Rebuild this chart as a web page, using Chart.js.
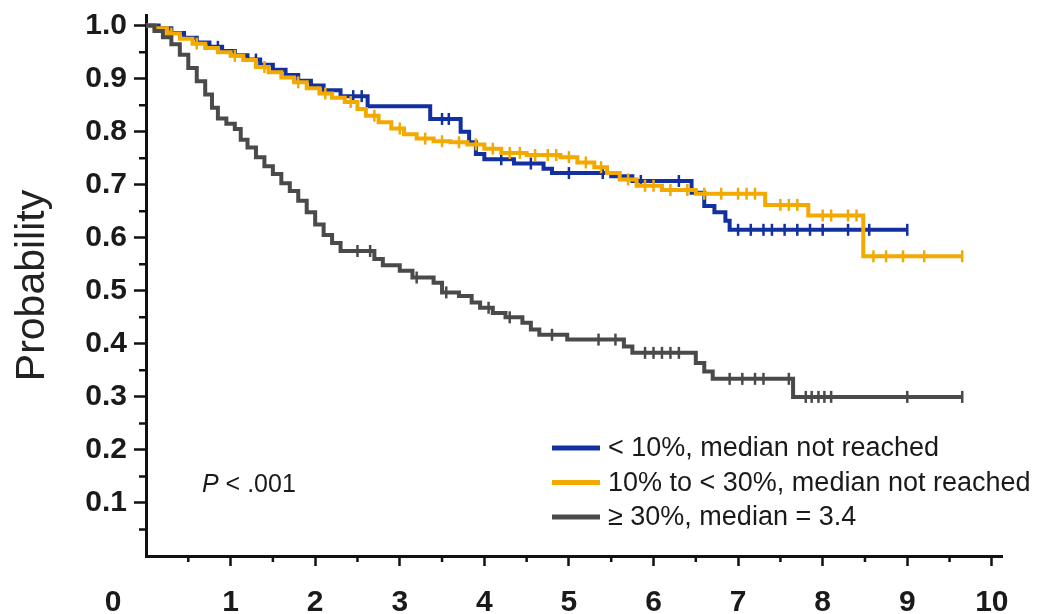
<!DOCTYPE html>
<html>
<head>
<meta charset="utf-8">
<script src="https://cdn.jsdelivr.net/npm/chart.js@4.4.1/dist/chart.umd.min.js"></script>
<style>
  html, body { margin: 0; padding: 0; background: #fff; }
</style>
</head>
<body>
<canvas id="km" width="1041" height="614"></canvas>
<script>
// survival curves (time in years, probability)
const lowTimes = [0, 0.15, 0.3, 0.45, 0.6, 0.75, 0.9, 1.05, 1.2, 1.35, 1.5, 1.65, 1.8, 1.95, 2.1, 2.3, 2.62,
    3.36, 3.72, 3.82, 3.9, 4.0, 4.35, 4.7, 4.8, 5.5, 5.75, 6.45, 6.6, 6.72, 6.85, 6.9];
const lowSurv = [1.0, 0.995, 0.986, 0.977, 0.968, 0.96, 0.952, 0.944, 0.936, 0.926, 0.917, 0.907, 0.896, 0.887, 0.878, 0.867, 0.848,
    0.824, 0.80, 0.78, 0.758, 0.748, 0.74, 0.73, 0.722, 0.716, 0.707, 0.685, 0.66, 0.648, 0.632, 0.615];
const lowCensored = [0.85, 1.3, 2.45, 2.55, 3.5, 3.58, 4.2, 4.55, 5.0, 5.4, 5.85, 6.3, 7.0, 7.15, 7.3, 7.4, 7.55,
    7.7, 7.85, 8.0, 8.3, 8.55, 9.0];

const midTimes = [0, 0.1, 0.25, 0.4, 0.55, 0.7, 0.85, 1.0, 1.15, 1.3, 1.45, 1.6, 1.75, 1.9, 2.05, 2.2, 2.35, 2.5,
    2.6, 2.75, 2.9, 3.05, 3.2, 3.4, 3.6, 3.8, 4.0, 4.2, 4.5, 4.9, 5.1, 5.3, 5.45, 5.6, 5.8, 6.1, 6.5, 7.32, 7.83, 8.48];
const midSurv = [1.0, 0.995, 0.985, 0.975, 0.966, 0.958, 0.95, 0.943, 0.935, 0.922, 0.912, 0.902, 0.893, 0.882, 0.872, 0.864, 0.856, 0.843,
    0.83, 0.818, 0.806, 0.795, 0.787, 0.782, 0.78, 0.776, 0.768, 0.76, 0.756, 0.752, 0.742, 0.733, 0.722, 0.71, 0.698, 0.69, 0.683, 0.662, 0.642, 0.565];
const midCensored = [0.3, 0.6, 1.05, 1.4, 1.8, 2.12, 2.42, 2.7, 3.0, 3.3, 3.5, 3.7, 3.9, 4.1, 4.3, 4.42, 4.6, 4.75, 4.85,
    5.0, 5.2, 5.38, 5.7, 5.9, 6.0, 6.2, 6.4, 6.6, 6.8, 7.0, 7.1, 7.2, 7.5, 7.6, 7.7, 8.0, 8.1, 8.3, 8.4, 8.6, 8.75, 8.95, 9.2, 9.65];

const highTimes = [0, 0.1, 0.2, 0.3, 0.4, 0.5, 0.6, 0.7, 0.78, 0.85, 0.95, 1.05, 1.12, 1.2, 1.3, 1.4, 1.5, 1.6, 1.7, 1.8, 1.9,
    2.0, 2.1, 2.2, 2.3, 2.7, 2.8, 3.0, 3.15, 3.4, 3.5, 3.7, 3.85, 3.95, 4.1, 4.25, 4.45, 4.55, 4.65, 4.98, 5.65, 5.75,
    6.5, 6.6, 6.7, 7.65];
const highSurv = [1.0, 0.99, 0.978, 0.965, 0.945, 0.92, 0.895, 0.87, 0.845, 0.825, 0.815, 0.805, 0.785, 0.77, 0.752, 0.735, 0.72, 0.703, 0.688, 0.67, 0.648,
    0.625, 0.605, 0.59, 0.575, 0.56, 0.548, 0.538, 0.525, 0.515, 0.497, 0.49, 0.478, 0.468, 0.458, 0.45, 0.44, 0.427, 0.417, 0.408, 0.395, 0.383,
    0.364, 0.348, 0.334, 0.30];
const highCensored = [2.5, 2.65, 3.2, 3.55, 4.05, 4.3, 4.8, 5.35, 5.55, 5.9, 6.0, 6.1, 6.2, 6.3, 6.9, 7.05, 7.2, 7.3, 7.6,
    7.8, 7.87, 7.95, 8.02, 8.1, 9.0, 9.65];

const legendLabels = ['< 10%, median not reached', '10% to < 30%, median not reached', '\u2265 30%, median = 3.4'];
const xTicks = [0, 1, 2, 3, 4, 5, 6, 7, 8, 9, 10];
const xMinorTicks = [0.5, 1.5, 2.5, 3.5, 4.5, 5.5, 6.5, 7.5, 8.5, 9.5];
const yMinorTicks = [0.05, 0.15, 0.25, 0.35, 0.45, 0.55, 0.65, 0.75, 0.85, 0.95];

const BLUE = '#12309f';
const ORANGE = '#f2a900';
const GRAY = '#4a4a4a';
const FONT = "'Liberation Sans', Arial, Helvetica, sans-serif";

// censor marks sit on the current step of the curve
function kmPoints(times, surv, cens) {
    const pts = times.map((t, i) => ({ x: t, y: surv[i], c: false }));
    cens.forEach(t => {
        let level = surv[0];
        times.forEach((tt, i) => { if (tt <= t) level = surv[i]; });
        pts.push({ x: t, y: level, c: true });
    });
    return pts.sort((a, b) => a.x - b.x);
}

function curve(label, pts, color, order) {
    return {
        label: label,
        data: pts,
        order: order,
        borderColor: color,
        backgroundColor: color,
        borderWidth: 4,
        stepped: true,
        fill: false,
        pointStyle: 'line',
        pointRotation: 90,
        pointRadius: c => (c.raw && c.raw.c ? 6 : 0),
        pointBorderWidth: 2.5,
        pointBorderColor: color,
        pointHoverRadius: 0
    };
}

const decor = {
    id: 'decor',
    afterDraw(chart) {
        const { ctx, chartArea: ca, scales: { x, y } } = chart;
        ctx.save();
        // minor ticks
        ctx.strokeStyle = '#111';
        ctx.lineWidth = 2.5;
        ctx.beginPath();
        xMinorTicks.forEach(v => {
            const px = x.getPixelForValue(v);
            ctx.moveTo(px, ca.bottom);
            ctx.lineTo(px, ca.bottom + 6);
        });
        yMinorTicks.forEach(v => {
            const py = y.getPixelForValue(v);
            ctx.moveTo(ca.left, py);
            ctx.lineTo(ca.left - 7, py);
        });
        ctx.stroke();

        // the shared origin label sits left of the axis
        ctx.fillStyle = '#1a1a1a';
        ctx.font = 'bold 30px ' + FONT;
        ctx.textAlign = 'center';
        ctx.textBaseline = 'middle';
        ctx.fillText('0', x.getPixelForValue(0) - 33, ca.bottom + 47);

        // P value
        ctx.textAlign = 'left';
        ctx.font = 'italic 25px ' + FONT;
        ctx.fillText('P', ca.left + 56, ca.bottom - 71);
        const pw = ctx.measureText('P').width;
        ctx.font = '25px ' + FONT;
        ctx.fillText(' < .001', ca.left + 56 + pw, ca.bottom - 71);

        // legend
        const colors = [BLUE, ORANGE, GRAY];
        ctx.font = '27px ' + FONT;
        ctx.lineWidth = 5;
        legendLabels.forEach((txt, i) => {
            const ly = ca.bottom - 108 + i * 34.5;
            ctx.strokeStyle = colors[i];
            ctx.beginPath();
            ctx.moveTo(ca.left + 406, ly);
            ctx.lineTo(ca.left + 454, ly);
            ctx.stroke();
            ctx.fillStyle = '#1a1a1a';
            ctx.fillText(txt, ca.left + 462, ly + 1);
        });
        ctx.restore();
    }
};

new Chart(document.getElementById('km'), {
    type: 'line',
    data: {
        datasets: [
            curve(legendLabels[0], kmPoints(lowTimes, lowSurv, lowCensored), BLUE, 3),
            curve(legendLabels[1], kmPoints(midTimes, midSurv, midCensored), ORANGE, 2),
            curve(legendLabels[2], kmPoints(highTimes, highSurv, highCensored), GRAY, 1)
        ]
    },
    options: {
        responsive: false,
        animation: false,
        layout: { padding: { top: 15, right: 39, left: 0, bottom: 0 } },
        plugins: {
            legend: { display: false },
            tooltip: { enabled: false }
        },
        scales: {
            x: {
                type: 'linear',
                min: 0,
                max: 10.12,
                border: { color: '#111', width: 3 },
                grid: {
                    drawOnChartArea: false,
                    tickLength: 10,
                    tickWidth: 2.5,
                    tickColor: c => (c.tick && c.tick.value === 0 ? 'rgba(0,0,0,0)' : '#111')
                },
                afterBuildTicks: s => { s.ticks = xTicks.map(v => ({ value: v })); },
                ticks: {
                    autoSkip: false,
                    maxRotation: 0,
                    padding: 19,
                    color: '#1a1a1a',
                    font: { family: FONT, size: 30, weight: 'bold' },
                    callback: v => (v === 0 ? '' : String(v))
                },
                afterFit: s => { s.height = 58; s.paddingLeft = 0; s.paddingRight = 0; }
            },
            y: {
                min: 0,
                max: 1.02,
                border: { color: '#111', width: 3 },
                grid: {
                    drawOnChartArea: false,
                    tickLength: 12,
                    tickWidth: 2.5,
                    tickColor: c => (c.tick && c.tick.value === 0 ? 'rgba(0,0,0,0)' : '#111')
                },
                ticks: {
                    stepSize: 0.1,
                    includeBounds: false,
                    padding: 7,
                    color: '#1a1a1a',
                    font: { family: FONT, size: 30, weight: 'bold' },
                    callback: v => (v < 0.05 ? '' : v.toFixed(1))
                },
                title: {
                    display: true,
                    text: 'Probability',
                    color: '#222',
                    font: { family: FONT, size: 41 },
                    padding: { top: 8, bottom: 0 }
                },
                afterFit: s => { s.width = 146; s.paddingTop = 0; s.paddingBottom = 0; }
            }
        }
    },
    plugins: [decor]
});
</script>
</body>
</html>
